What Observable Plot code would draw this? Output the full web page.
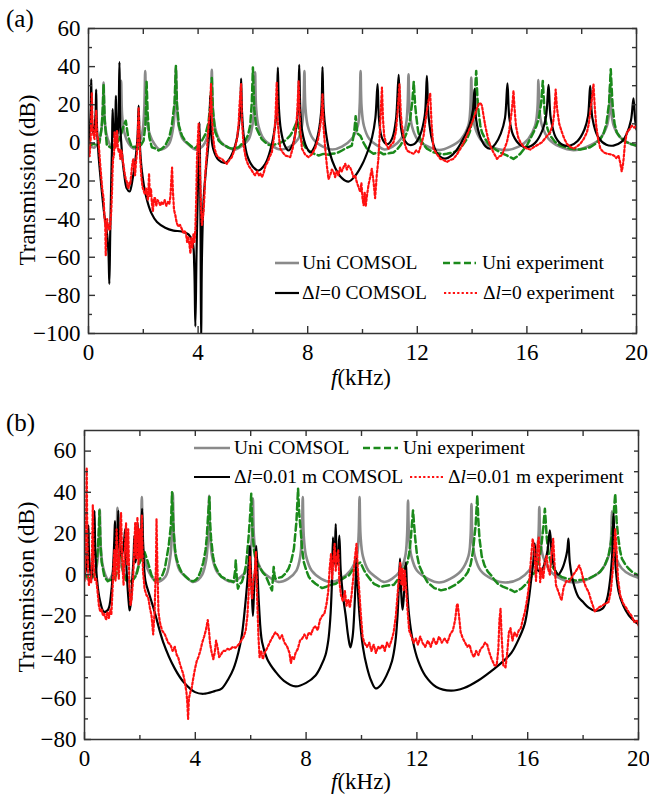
<!DOCTYPE html>
<html><head><meta charset="utf-8">
<script src="https://cdn.jsdelivr.net/npm/d3@7"></script>
<script src="https://cdn.jsdelivr.net/npm/@observablehq/plot@0.6"></script>
<style>
body{margin:0;background:#fff;}
#page{position:relative;width:649px;height:795px;overflow:hidden;font-family:'Liberation Serif','Times New Roman',serif;color:#000;background:#fff;}
.t{position:absolute;white-space:nowrap;line-height:1;font-family:'Liberation Serif','Times New Roman',serif;}
.panel{position:absolute;left:0;}
.panel svg text{font-family:'Liberation Serif','Times New Roman',serif !important;}
</style></head><body><div id="page"></div>
<script>
// ---------- tick values ----------
const xMajor = [0, 4, 8, 12, 16, 20];
const xMinor = [2, 6, 10, 14, 18];
const xAll = [0, 2, 4, 6, 8, 10, 12, 14, 16, 18, 20];
const yMajorA = [-100, -80, -60, -40, -20, 0, 20, 40, 60];
const yMinorA = [-90, -70, -50, -30, -10, 10, 30, 50];
const yAllA = [-100, -90, -80, -70, -60, -50, -40, -30, -20, -10, 0, 10, 20, 30, 40, 50, 60];
const yMajorB = [-80, -60, -40, -20, 0, 20, 40, 60];
const yMinorB = [-70, -50, -30, -10, 10, 30, 50];
const yAllB = [-80, -70, -60, -50, -40, -30, -20, -10, 0, 10, 20, 30, 40, 50, 60];

// ---------- series: [f (kHz), transmission (dB)] ----------
const uniComsol = [[0,-1],[0.2,-2.5],[0.35,0],[0.45,5],[0.515,14],[0.55,31.7],[0.585,14],[0.65,5],[0.75,0],[0.87,-2.5],[1.0,0],[1.09,5],[1.155,15],[1.19,32.5],[1.225,15],[1.3,6],[1.45,0],[1.65,-3],[1.82,-1],[1.97,6],[2.035,18],[2.07,37.7],[2.105,18],[2.17,8],[2.32,1.5],[2.6,-3.5],[2.92,-1],[3.09,8],[3.155,20],[3.19,39.5],[3.225,20],[3.29,9],[3.44,2],[3.7,-1.5],[3.9,-3.5],[4.1,-2.5],[4.25,0],[4.39,7],[4.465,19],[4.5,38.3],[4.535,19],[4.62,8],[4.8,1],[5.1,-2.5],[5.35,-3.5],[5.6,-1.5],[5.85,2],[5.98,9],[6.045,19],[6.08,37],[6.115,19],[6.2,9],[6.4,2],[6.7,-1.5],[7.0,-3.5],[7.35,-2],[7.65,2],[7.79,9],[7.845,19],[7.88,37.7],[7.915,19],[8.0,9],[8.2,2],[8.55,-2],[8.9,-3.5],[9.25,-2],[9.6,2],[9.83,9],[9.895,19],[9.93,37.7],[9.965,19],[10.05,9],[10.25,2],[10.55,-1.5],[10.8,-3.5],[11.1,-2],[11.4,2],[11.58,9],[11.645,19],[11.68,36],[11.715,19],[11.8,9],[12.0,2],[12.4,-2],[12.8,-3.8],[13.2,-2],[13.6,2],[13.86,9],[13.935,18],[13.97,34.3],[14.005,18],[14.09,9],[14.3,2],[14.7,-2],[15.2,-3.8],[15.7,-2],[16.05,2],[16.3,9],[16.385,18],[16.42,32.9],[16.455,18],[16.55,9],[16.8,2],[17.2,-2],[17.7,-3.8],[18.2,-2],[18.65,2],[18.92,9],[19.005,17],[19.04,30.8],[19.075,17],[19.17,9],[19.4,3],[19.7,0],[20,-1.5]];

const uniExpA = [[0,0],[0.1,-1],[0.2,-0.5],[0.3,-1.5],[0.4,0],[0.48,8],[0.52,18],[0.55,30.8],[0.59,12],[0.67,-1.4],[0.76,-2],[0.85,-2.8],[0.97,-1],[1.1,1.2],[1.2,5],[1.28,9],[1.36,11.6],[1.44,3.8],[1.58,-2.3],[1.7,-2],[1.83,-3],[1.92,-1],[2.01,1.2],[2.08,10],[2.12,32],[2.16,15],[2.22,3],[2.31,-2.3],[2.45,-3],[2.56,-4],[2.68,-3],[2.8,-1.4],[2.95,3],[3.04,9],[3.14,21],[3.19,40.3],[3.23,20],[3.3,9],[3.41,3.8],[3.53,1],[3.65,-0.5],[3.77,-2],[3.89,-2.8],[4.02,-1],[4.14,1.2],[4.28,5],[4.38,10.8],[4.45,21],[4.5,34],[4.54,17],[4.62,6],[4.75,1.2],[4.87,-0.5],[4.99,-1.4],[5.11,-2.5],[5.23,-3],[5.35,-2.6],[5.48,-2.3],[5.6,-0.5],[5.72,1.2],[5.82,4],[5.9,9],[5.96,21],[6.0,39.5],[6.05,17.7],[6.12,8],[6.2,5.5],[6.32,2],[6.45,0.3],[6.57,-1],[6.69,-1.4],[6.81,-0.8],[6.93,-0.5],[7.05,0.5],[7.18,1.2],[7.27,2.5],[7.36,3.8],[7.45,6],[7.54,9],[7.62,11.6],[7.73,3.8],[7.82,0],[7.91,-2.3],[8.03,-4],[8.15,-5],[8.27,-6],[8.4,-6.6],[8.52,-6],[8.64,-5.7],[8.76,-6.2],[8.88,-5.7],[9.0,-5.5],[9.12,-5],[9.25,-4],[9.37,-3],[9.49,-2.2],[9.61,-1.4],[9.7,6],[9.75,14],[9.81,5],[9.92,3.8],[10.04,0],[10.16,-3],[10.28,-4.5],[10.4,-5.7],[10.52,-5.2],[10.65,-5],[10.77,-6],[10.89,-5.7],[11.01,-5.3],[11.13,-5],[11.26,-3.5],[11.38,-1.4],[11.5,1.5],[11.62,5.5],[11.72,11],[11.77,16],[11.82,22],[11.87,32],[11.92,20],[11.96,14.2],[12.03,6],[12.11,2],[12.23,-1],[12.35,-3],[12.47,-4],[12.6,-5],[12.72,-5.5],[12.84,-5.7],[12.96,-6],[13.08,-5.7],[13.2,-5.3],[13.32,-5],[13.45,-4],[13.57,-3],[13.69,-0.5],[13.81,2],[13.92,6],[13.99,10.8],[14.09,23],[14.15,37.7],[14.2,22],[14.24,16],[14.3,9],[14.36,5.5],[14.48,2],[14.6,-0.5],[14.75,-2.5],[14.91,-4],[15.09,-5.5],[15.27,-6.6],[15.39,-7.5],[15.51,-8.4],[15.64,-7.2],[15.76,-5.7],[15.88,-3.5],[16.0,-1.4],[16.12,2],[16.24,5.5],[16.35,9],[16.43,12.5],[16.52,21],[16.58,32.5],[16.63,20],[16.67,12.5],[16.76,7],[16.85,3.8],[17.03,0.5],[17.22,-1.4],[17.4,-2.2],[17.58,-3],[17.77,-3.3],[17.95,-3.5],[18.13,-3],[18.31,-2.3],[18.5,-0.5],[18.68,2],[18.8,5],[18.9,9.9],[19.0,21],[19.06,38.6],[19.11,24],[19.14,17.7],[19.2,10],[19.28,5.5],[19.4,3],[19.53,1.2],[19.65,0.3],[19.77,-0.5],[19.9,-1],[20,-1.4]];

const dl0Comsol = [[0,0],[0.05,8],[0.085,18],[0.1,33.4],[0.12,15],[0.17,5],[0.22,8],[0.26,16],[0.28,28],[0.3,12],[0.36,-5],[0.45,-20],[0.58,-38],[0.68,-48],[0.73,-58],[0.76,-74],[0.79,-50],[0.83,-20],[0.86,0],[0.88,17.7],[0.91,5],[0.94,3],[0.98,12],[1.0,24.7],[1.03,8],[1.07,5],[1.1,15],[1.13,42.4],[1.16,10],[1.22,-5],[1.3,-16],[1.4,-24],[1.5,-25.5],[1.62,-18],[1.72,-8],[1.79,3],[1.83,19.5],[1.87,0],[1.95,-15],[2.1,-28],[2.3,-37],[2.5,-41.5],[2.8,-44.5],[3.1,-46],[3.4,-46.5],[3.65,-48],[3.8,-52],[3.86,-65],[3.9,-96.3],[3.94,-60],[3.99,-25],[4.03,-2],[4.05,10.6],[4.07,-10],[4.09,-45],[4.11,-105],[4.14,-60],[4.2,-30],[4.3,-12],[4.38,0],[4.42,10],[4.44,24.7],[4.47,7],[4.55,-3],[4.75,-9],[5.0,-10.5],[5.2,-7],[5.38,0],[5.48,8],[5.54,17],[5.57,33.7],[5.6,17],[5.67,3],[5.8,-7],[6.0,-12.5],[6.2,-14.5],[6.45,-11],[6.65,-3],[6.8,8],[6.87,18],[6.91,39.5],[6.95,18],[7.02,7],[7.15,-1],[7.3,-4],[7.45,-1],[7.57,7],[7.65,18],[7.69,40.9],[7.73,18],[7.8,6],[7.95,-2],[8.1,-5],[8.25,-2],[8.4,6],[8.5,18],[8.54,39.8],[8.58,18],[8.66,6],[8.8,-5],[9.0,-13],[9.25,-18.5],[9.49,-20.3],[9.75,-17],[10.0,-11],[10.2,-4],[10.35,3],[10.47,13],[10.55,30.8],[10.6,13],[10.7,3],[10.85,-0.5],[10.95,-0.5],[11.1,3],[11.22,12],[11.32,35.7],[11.37,14],[11.48,3],[11.7,-1],[11.9,-0.5],[12.1,4],[12.27,14],[12.35,35.2],[12.41,14],[12.55,1],[12.75,-6],[13.0,-8.3],[13.3,-6],[13.6,0],[13.9,9],[14.03,17],[14.09,28.2],[14.15,12],[14.3,3],[14.5,-2],[14.66,-3],[14.85,-0.5],[15.05,5],[15.2,13],[15.29,31.2],[15.36,13],[15.5,4],[15.75,-1],[16.0,-2.3],[16.3,0],[16.55,6],[16.7,14],[16.79,30.4],[16.87,13],[17.05,3],[17.3,-1],[17.58,-1.4],[17.85,1],[18.1,7],[18.23,14],[18.31,29.9],[18.39,13],[18.6,3],[18.9,-1],[19.16,-1.4],[19.45,0.5],[19.65,5],[19.8,12],[19.89,23.3],[19.95,12],[20,7]];

const dl0Exp = [[0,-4],[0.04,-7],[0.08,2],[0.12,26.4],[0.15,8],[0.18,4],[0.22,2],[0.26,10],[0.28,17],[0.31,5],[0.37,0],[0.42,-10],[0.46,-17],[0.5,-24],[0.55,-29],[0.58,-38],[0.61,-43],[0.63,-59],[0.65,-48],[0.68,-40],[0.71,-44],[0.73,-43],[0.76,-46],[0.79,-45],[0.81,-40],[0.83,-36],[0.86,-25],[0.88,-14],[0.9,-8],[0.93,-7],[0.95,5.5],[0.98,-3],[1.0,-1.4],[1.02,3],[1.04,6.4],[1.07,-2],[1.1,-5],[1.13,-3],[1.16,-8.4],[1.19,-4],[1.22,-5],[1.25,-9],[1.28,-12],[1.32,-16],[1.36,-19],[1.4,-20.5],[1.43,-23],[1.46,-24],[1.49,-21],[1.52,-22],[1.55,-18],[1.58,-13.6],[1.61,-10],[1.64,-8.4],[1.67,-13],[1.7,-17],[1.73,-11],[1.77,-5],[1.8,5],[1.83,18.6],[1.86,2],[1.89,-8.4],[1.93,-18],[1.97,-23],[2.01,-25],[2.06,-27],[2.1,-24],[2.13,-26.7],[2.17,-30],[2.21,-16],[2.24,-28],[2.28,-24],[2.31,-31],[2.35,-36],[2.39,-29],[2.43,-29],[2.47,-33],[2.52,-30],[2.57,-31],[2.62,-33],[2.67,-31],[2.72,-32],[2.78,-30],[2.84,-33],[2.9,-31],[2.95,-32],[2.99,-28],[3.02,-20],[3.05,-13],[3.08,-25],[3.12,-35],[3.17,-38],[3.22,-42],[3.28,-44],[3.34,-43],[3.4,-45],[3.46,-47],[3.51,-46],[3.56,-48],[3.6,-52],[3.64,-49],[3.68,-53],[3.72,-58],[3.75,-50],[3.79,-55],[3.83,-48],[3.87,-52],[3.9,-45],[3.93,-30],[3.96,-8],[3.99,2],[4.02,10],[4.05,-5],[4.08,-20],[4.11,-35],[4.14,-43],[4.17,-40],[4.2,-36],[4.23,-28],[4.26,-17],[4.32,-5],[4.38,9],[4.44,18],[4.47,30.8],[4.5,15],[4.54,4],[4.6,-3],[4.68,-6.6],[4.78,-8],[4.87,-8.4],[4.96,-10],[5.05,-11],[5.14,-9],[5.23,-7.5],[5.32,-4],[5.42,2],[5.48,10],[5.51,19.5],[5.54,25],[5.57,30.8],[5.6,12],[5.66,-1.4],[5.74,-8],[5.84,-12],[5.94,-14],[6.02,-16],[6.08,-17],[6.16,-15],[6.22,-17],[6.27,-16],[6.33,-18],[6.39,-16],[6.46,-12],[6.54,-10],[6.62,-7],[6.69,-5],[6.76,2],[6.82,12],[6.87,31.7],[6.91,10],[6.96,2],[7.0,-3],[7.09,-5],[7.18,-6.6],[7.27,-7],[7.36,-7.5],[7.45,-3],[7.54,4],[7.61,14],[7.67,32.5],[7.72,8],[7.79,-3],[7.9,-6],[8.03,-7.5],[8.15,-6],[8.27,-3],[8.38,2],[8.46,9],[8.51,16],[8.54,25.6],[8.58,8],[8.64,-3],[8.7,-12],[8.76,-19],[8.82,-17],[8.88,-14],[8.94,-15],[9.0,-18],[9.06,-15],[9.12,-17],[9.18,-13],[9.24,-15],[9.31,-12.7],[9.37,-11],[9.43,-14],[9.49,-12],[9.55,-13],[9.61,-15],[9.67,-18],[9.73,-17],[9.79,-20.5],[9.85,-23],[9.92,-25.8],[9.96,-21],[10.0,-29],[10.04,-32.7],[10.08,-26],[10.12,-33],[10.16,-28],[10.22,-22],[10.28,-18],[10.34,-13.6],[10.4,-20],[10.46,-29],[10.52,-17],[10.58,-8.4],[10.63,5],[10.67,17.7],[10.71,29],[10.75,12],[10.79,4],[10.87,-1],[10.95,-3],[11.04,-1],[11.13,0.3],[11.22,6],[11.28,16],[11.35,30.8],[11.4,15],[11.44,9],[11.53,0],[11.62,-4],[11.74,-5],[11.87,-5.7],[11.96,-4],[12.05,-5],[12.14,-1],[12.23,3.8],[12.33,15],[12.41,22],[12.47,26],[12.52,10],[12.59,-3],[12.72,-6],[12.84,-8.4],[12.96,-9],[13.08,-10],[13.2,-9],[13.32,-8.4],[13.45,-6],[13.57,-3],[13.69,0],[13.81,4],[13.93,8],[14.05,12.5],[14.15,17],[14.24,20.3],[14.3,21],[14.36,19.5],[14.42,14],[14.48,9],[14.57,3],[14.66,-1.4],[14.78,-5],[14.91,-8.4],[15.0,-7],[15.09,-6.6],[15.18,-3],[15.27,0.3],[15.35,6],[15.41,12.5],[15.47,20],[15.51,27.3],[15.55,18],[15.6,9],[15.68,3],[15.76,0.3],[15.88,-2],[16.0,-3],[16.12,-3.5],[16.24,-2.3],[16.4,-1],[16.55,0.3],[16.7,3],[16.85,5.5],[16.95,10],[17.0,16],[17.05,28],[17.1,18],[17.18,10],[17.28,5.5],[17.37,2],[17.46,-0.5],[17.58,-2],[17.7,-3],[17.82,-2],[17.95,-0.5],[18.07,2],[18.19,5.5],[18.26,10],[18.31,16],[18.38,24],[18.43,30.8],[18.48,18],[18.53,9],[18.6,2],[18.68,-3],[18.8,-5],[18.92,-5.7],[19.05,-6],[19.17,-6.6],[19.26,-8],[19.34,-6.6],[19.4,-10],[19.46,-15],[19.5,-12],[19.53,-8.4],[19.58,0],[19.65,5.5],[19.74,7],[19.83,9],[19.92,8],[20,9]];

const uniExpB = [[0,0],[0.1,-1],[0.2,-2],[0.3,-1],[0.4,1],[0.48,12],[0.51,20],[0.54,31.2],[0.58,14],[0.62,6],[0.72,-1],[0.84,-3.2],[0.93,-2.5],[1.02,-2.8],[1.14,-0.3],[1.23,6],[1.3,14],[1.39,1.3],[1.51,-2.8],[1.6,-3],[1.69,-3.2],[1.78,-2],[1.87,-0.3],[1.99,6],[2.1,9],[2.17,11],[2.29,6],[2.42,-0.3],[2.53,-2.8],[2.62,-2.2],[2.72,-2],[2.82,0],[2.9,3],[3.04,14],[3.12,24],[3.16,40],[3.2,26],[3.22,20.7],[3.27,12],[3.32,7.8],[3.41,4],[3.5,1.3],[3.62,-0.5],[3.74,-2],[3.85,-3],[3.93,-3.2],[4.02,-2.5],[4.11,-1.1],[4.2,2],[4.29,6],[4.37,12],[4.41,17.5],[4.47,30.4],[4.51,37.7],[4.54,24],[4.57,17.5],[4.64,9],[4.71,4.5],[4.83,1],[4.95,-1.1],[5.08,-2],[5.2,-2.8],[5.3,-3],[5.38,-3.6],[5.44,2],[5.46,7],[5.5,-2],[5.54,-6.8],[5.6,-4.5],[5.68,-3.6],[5.76,0],[5.83,4.5],[5.92,17.5],[5.98,28.8],[6.02,39.3],[6.05,26],[6.08,17.5],[6.13,11],[6.17,7.8],[6.26,5],[6.35,3],[6.44,1],[6.53,-0.3],[6.62,-3],[6.71,-6],[6.77,-7.6],[6.8,-2],[6.83,3.7],[6.86,0],[6.89,-2],[7.0,-1.5],[7.13,-1.1],[7.25,0.5],[7.37,3],[7.47,7],[7.56,12.6],[7.65,25.6],[7.71,41.7],[7.75,30],[7.8,22.3],[7.86,12],[7.92,6],[8.01,2],[8.1,-1.1],[8.22,-3],[8.34,-4.4],[8.46,-5.5],[8.58,-6.5],[8.7,-6],[8.83,-5.2],[8.95,-4.8],[9.07,-4.4],[9.19,-3.2],[9.31,-2],[9.43,-1],[9.55,-0.3],[9.64,1.5],[9.73,3],[9.84,5],[9.96,6],[10.08,2.5],[10.2,-0.3],[10.33,-2.5],[10.45,-4.4],[10.57,-5.2],[10.69,-6],[10.81,-5.5],[10.93,-5.2],[11.05,-5.1],[11.17,-4.9],[11.3,-2.5],[11.42,-0.3],[11.54,3],[11.66,6],[11.73,11],[11.78,17.5],[11.86,31.2],[11.9,24],[11.94,17.5],[12.0,10],[12.08,4.5],[12.23,0],[12.38,-3.6],[12.5,-5],[12.63,-6.5],[12.75,-7],[12.87,-7.6],[13.0,-7.2],[13.12,-6.8],[13.23,-6],[13.35,-5.2],[13.47,-4],[13.59,-2.8],[13.72,-1],[13.84,1.3],[13.94,5],[14.02,11],[14.12,24],[14.18,38.5],[14.22,26],[14.26,17.5],[14.34,9],[14.44,4.5],[14.56,1.5],[14.68,-0.3],[14.8,-2.5],[14.92,-4.4],[15.1,-5.8],[15.29,-6.8],[15.41,-7.5],[15.53,-8.4],[15.65,-7.6],[15.77,-6.8],[15.89,-5.2],[16.01,-3.6],[16.13,-1],[16.26,1.3],[16.36,5],[16.44,9.4],[16.5,15],[16.56,22.3],[16.62,32],[16.66,24],[16.69,17.5],[16.76,10],[16.86,4.5],[17.04,1],[17.22,-1.1],[17.46,-2],[17.71,-2.8],[17.95,-2.5],[18.19,-2],[18.4,-0.5],[18.61,1.3],[18.78,4.5],[18.92,9.4],[19.0,15],[19.06,22.3],[19.16,39.3],[19.21,26],[19.26,19],[19.33,12],[19.4,7.8],[19.52,5],[19.64,3],[19.76,1.5],[19.88,0.5],[20,-0.3]];

const dl001Comsol = [[0,-1],[0.08,5],[0.12,15],[0.14,24],[0.17,8],[0.25,-2],[0.31,8],[0.34,18],[0.36,31],[0.39,12],[0.45,-2],[0.55,-12],[0.7,-18],[0.85,-17],[0.97,-8],[1.04,6],[1.08,18],[1.1,26],[1.14,12],[1.17,11],[1.2,19],[1.22,31],[1.26,14],[1.34,9],[1.42,15],[1.47,22.3],[1.5,8],[1.55,-5],[1.6,-14],[1.63,-17.3],[1.67,-14],[1.72,-3],[1.77,8],[1.8,19],[1.84,6],[1.88,10],[1.92,25],[1.96,10],[2.01,12],[2.05,20],[2.08,32],[2.12,12],[2.2,-3],[2.35,-10],[2.53,-18],[2.84,-32.7],[3.26,-45.6],[3.6,-52.5],[3.99,-57],[4.3,-57.8],[4.7,-56.5],[4.95,-55.3],[5.2,-50.5],[5.38,-45.6],[5.55,-38],[5.68,-29.4],[5.8,-15],[5.88,-3],[5.94,7],[5.97,14],[6.0,5],[6.04,-8],[6.08,-20],[6.12,-8],[6.17,5],[6.2,14],[6.24,3],[6.3,-15],[6.41,-32.7],[6.6,-41],[6.89,-47],[7.2,-51.5],[7.62,-54.2],[8.0,-52.5],[8.34,-48.9],[8.55,-44],[8.7,-39],[8.8,-32],[8.87,-22],[8.93,-5],[8.97,18.1],[9.0,5],[9.03,8],[9.07,24.6],[9.11,5],[9.15,8],[9.2,19],[9.25,2],[9.33,-10],[9.43,-20],[9.52,-30],[9.6,-35.3],[9.68,-30],[9.75,-15],[9.79,-2],[9.82,8],[9.86,-5],[9.93,-20],[10.05,-35],[10.2,-45],[10.35,-51.5],[10.51,-55.2],[10.7,-53.5],[10.9,-49],[11.1,-42],[11.22,-33],[11.3,-20],[11.35,-5],[11.39,7.8],[11.43,-8],[11.48,-17],[11.52,-12],[11.56,-2],[11.6,6],[11.64,-5],[11.72,-20],[11.85,-32],[12.05,-42],[12.3,-49],[12.7,-54.5],[13.23,-56.3],[13.7,-55],[14.2,-51.5],[14.8,-45.6],[15.2,-41],[15.41,-38],[15.65,-32],[15.89,-24],[16.02,-14],[16.13,-2],[16.2,6],[16.25,15.2],[16.3,6],[16.38,2],[16.5,2],[16.62,6],[16.72,12],[16.8,21.5],[16.87,10],[16.97,3],[17.1,0],[17.25,3],[17.37,8],[17.43,12],[17.47,17.5],[17.52,6],[17.65,-4],[17.83,-10.8],[18.0,-13.3],[18.2,-16],[18.43,-17.5],[18.7,-16.5],[18.86,-12],[18.98,-2],[19.05,10],[19.1,29.6],[19.15,8],[19.28,-8],[19.45,-15],[19.65,-19.7],[19.85,-22.5],[20,-24]];

const dl001Exp = [[0,-3],[0.03,5],[0.06,30],[0.08,52],[0.1,20],[0.13,0],[0.16,-5],[0.2,-2],[0.24,-4],[0.27,10],[0.3,33.7],[0.33,5],[0.38,-3],[0.42,-2],[0.47,-8],[0.52,-15],[0.57,-18],[0.62,-17],[0.67,-20],[0.72,-19],[0.78,-22],[0.83,-18],[0.88,-21],[0.93,-17],[0.97,-19],[1.01,-8],[1.05,5],[1.08,12],[1.12,-3],[1.16,22],[1.2,5],[1.24,-2],[1.28,18],[1.32,30],[1.36,8],[1.41,-5],[1.45,10],[1.5,25],[1.54,5],[1.58,22],[1.62,-5],[1.66,-15],[1.7,-12],[1.75,-3],[1.79,10],[1.83,25],[1.87,8],[1.91,28],[1.95,5],[1.99,22],[2.03,8],[2.07,29],[2.11,2],[2.17,-7],[2.24,-10],[2.3,-11],[2.36,-16],[2.42,-20],[2.48,-29],[2.53,-18],[2.58,5],[2.6,27],[2.63,5],[2.67,-18],[2.72,-23],[2.8,-27],[2.9,-29],[2.96,-31],[3.02,-33],[3.1,-34],[3.18,-37],[3.26,-35],[3.33,-39],[3.38,-40],[3.44,-43],[3.5,-45.6],[3.56,-48],[3.62,-52],[3.68,-57],[3.71,-62],[3.74,-70],[3.77,-60],[3.82,-57],[3.87,-55],[3.93,-50],[3.99,-45.6],[4.05,-42],[4.11,-40],[4.17,-37.5],[4.25,-33],[4.32,-30],[4.38,-27],[4.45,-22],[4.5,-28],[4.53,-33],[4.58,-37],[4.65,-41],[4.7,-38],[4.75,-32],[4.8,-35],[4.86,-40],[4.92,-39],[5.0,-37],[5.08,-37],[5.16,-36],[5.25,-36.5],[5.35,-35],[5.45,-35.5],[5.56,-34],[5.66,-32],[5.75,-30],[5.82,-27],[5.88,-20],[5.93,-8],[5.97,9],[6.01,-5],[6.05,-12],[6.1,-3],[6.15,2],[6.19,11],[6.23,-10],[6.28,-30],[6.32,-40],[6.38,-37],[6.44,-41],[6.5,-38],[6.58,-36],[6.65,-34],[6.72,-32],[6.8,-30],[6.89,-28],[6.97,-29],[7.05,-31],[7.13,-29.4],[7.22,-33],[7.32,-35],[7.4,-38],[7.45,-43],[7.5,-40],[7.56,-41],[7.62,-38],[7.7,-36],[7.78,-32],[7.86,-31],[7.94,-29],[8.02,-31],[8.1,-28],[8.18,-29],[8.26,-26],[8.34,-25],[8.42,-27],[8.5,-22],[8.58,-20],[8.66,-19],[8.74,-14],[8.8,-8],[8.85,3],[8.9,10],[8.94,-2],[8.98,6],[9.03,15],[9.07,2],[9.11,8],[9.16,12],[9.2,-3],[9.26,-10],[9.33,-13],[9.4,-8],[9.46,-15],[9.52,-12],[9.58,-16],[9.64,-10],[9.7,-2],[9.76,8],[9.82,15],[9.87,2],[9.93,-10],[9.98,-20],[10.04,-30],[10.1,-33],[10.2,-35],[10.28,-33],[10.36,-37],[10.44,-34],[10.52,-38],[10.6,-35],[10.68,-36],[10.76,-34],[10.84,-37],[10.92,-33],[11.0,-35],[11.08,-32],[11.16,-28],[11.24,-20],[11.3,-10],[11.36,0],[11.4,6],[11.44,-5],[11.48,3],[11.52,-8],[11.56,2],[11.6,-5],[11.65,-15],[11.72,-27],[11.8,-30],[11.88,-33],[11.96,-31],[12.04,-34],[12.12,-30],[12.2,-33],[12.3,-35],[12.4,-32],[12.5,-35],[12.6,-31],[12.7,-34],[12.8,-30],[12.9,-33],[13.0,-31],[13.1,-33],[13.2,-29],[13.3,-27],[13.38,-22],[13.44,-15],[13.47,-14],[13.52,-20],[13.58,-28],[13.66,-31],[13.74,-33],[13.82,-35],[13.9,-34],[13.98,-38],[14.06,-40],[14.14,-37],[14.22,-39],[14.3,-36],[14.38,-35],[14.46,-33],[14.54,-34],[14.62,-38],[14.7,-41],[14.8,-44],[14.88,-44],[14.94,-36],[14.98,-22],[15.02,-16.5],[15.06,-30],[15.12,-44],[15.2,-45],[15.26,-38],[15.32,-28],[15.38,-26],[15.45,-32],[15.52,-28],[15.6,-30],[15.68,-27],[15.75,-26],[15.82,-22],[15.9,-18],[15.98,-12],[16.05,-5],[16.12,8],[16.18,17.5],[16.24,12],[16.3,-3],[16.36,15],[16.4,18],[16.45,-3.6],[16.5,3],[16.56,-2],[16.62,6],[16.68,9],[16.74,2.8],[16.8,0],[16.86,10],[16.92,17.5],[16.97,5],[17.02,-5],[17.1,-8],[17.22,-12.5],[17.3,-6],[17.4,-3],[17.5,-3.4],[17.6,-1],[17.7,1],[17.8,3],[17.86,4.5],[17.93,2],[18.02,-3],[18.1,-6],[18.2,-8.4],[18.3,-13],[18.43,-18],[18.55,-16],[18.7,-15],[18.8,-14],[18.92,-13.3],[19.0,-8],[19.07,2],[19.12,12],[19.16,22],[19.2,14],[19.26,-2],[19.34,-10],[19.45,-14],[19.55,-16],[19.64,-18],[19.75,-20],[19.85,-23],[19.95,-22],[20,-24.6]];

// ---------- styles ----------
const C = {
  uni: {stroke: "#8a8a8a", strokeWidth: 2.6},
  uniExp: {stroke: "#1b8a1b", strokeWidth: 2.5, strokeDasharray: "7,3.5"},
  comsol: {stroke: "#000", strokeWidth: 2.2},
  exp: {stroke: "#ff1010", strokeWidth: 2.2, strokeDasharray: "2.2,2.2"}
};
const FONT = "'Liberation Serif', 'Times New Roman', serif";
const AXC = "#333";

function panel({yDomain, yMajor, yMinor, yAll, series, margins, height}) {
  const fx = d => d[0], fy = d => d[1];
  const [g, ge, k, r] = series;
  return Plot.plot({
    width: 649, height,
    marginLeft: margins[0], marginRight: margins[1], marginTop: margins[2], marginBottom: margins[3],
    x: {domain: [0, 20]},
    y: {domain: yDomain},
    style: {fontFamily: FONT, fontSize: "23px", color: "#000", background: "transparent", overflow: "visible"},
    marks: [
      Plot.line(g, {x: fx, y: fy, ...C.uni, curve: "catmull-rom", clip: true}),
      Plot.line(ge, {x: fx, y: fy, ...C.uniExp, clip: true}),
      Plot.line(k, {x: fx, y: fy, ...C.comsol, curve: "catmull-rom", clip: true}),
      Plot.line(r, {x: fx, y: fy, ...C.exp, clip: true}),
      Plot.frame({stroke: AXC, strokeWidth: 1.5}),
      Plot.axisX(xMajor, {anchor: "bottom", tickSize: 0, tickPadding: 10, label: null, fontSize: 23, fontFamily: FONT, fill: "#000"}),
      Plot.axisX(xMajor, {anchor: "bottom", tickSize: -7, text: null, label: null, stroke: AXC, strokeWidth: 1.4}),
      Plot.axisX(xMinor, {anchor: "bottom", tickSize: -4, text: null, label: null, stroke: AXC, strokeWidth: 1.4}),
      Plot.axisX(xAll, {anchor: "top", tickSize: -5, text: null, label: null, stroke: AXC, strokeWidth: 1.4}),
      Plot.axisY(yMajor, {anchor: "left", tickSize: 0, tickPadding: 8, label: null, fontSize: 23, fontFamily: FONT, fill: "#000"}),
      Plot.axisY(yMajor, {anchor: "left", tickSize: -7, text: null, label: null, stroke: AXC, strokeWidth: 1.4}),
      Plot.axisY(yMinor, {anchor: "left", tickSize: -4, text: null, label: null, stroke: AXC, strokeWidth: 1.4}),
      Plot.axisY(yAll, {anchor: "right", tickSize: -5, text: null, label: null, stroke: AXC, strokeWidth: 1.4})
    ]
  });
}

const page = document.getElementById("page");

const pa = panel({yDomain: [-100, 60], yMajor: yMajorA, yMinor: yMinorA, yAll: yAllA,
  series: [uniComsol, uniExpA, dl0Comsol, dl0Exp], margins: [88, 13, 28, 62], height: 395});
const divA = document.createElement("div"); divA.className = "panel"; divA.style.top = "0px"; divA.appendChild(pa); page.appendChild(divA);

const pb = panel({yDomain: [-80, 70], yMajor: yMajorB, yMinor: yMinorB, yAll: yAllB,
  series: [uniComsol, uniExpB, dl001Comsol, dl001Exp], margins: [84, 11, 35, 56], height: 400});
const divB = document.createElement("div"); divB.className = "panel"; divB.style.top = "395px"; divB.appendChild(pb); page.appendChild(divB);

// ---------- text overlays ----------
function txt(html, x, y, size, align = "left", rotate = 0) {
  const d = document.createElement("div");
  d.className = "t";
  d.innerHTML = html;
  d.style.left = x + "px";
  d.style.top = y + "px";
  d.style.fontSize = size + "px";
  d.style.fontFamily = FONT;
  const tx = align === "center" ? "-50%" : "0";
  d.style.transform = `translate(${tx},-50%)`;
  if (rotate) { d.style.transformOrigin = "0 0"; d.style.transform = `rotate(${rotate}deg) translate(-50%,-50%)`; }
  page.appendChild(d);
  return d;
}
txt("(a)", 6, 18, 25);
txt("(b)", 6, 422, 25);
txt("Transmission (dB)", 27, 180, 23, "center", -90);
txt("Transmission (dB)", 26, 587, 23, "center", -90);
txt("<i>f</i>(kHz)", 361, 377, 23, "center");
txt("<i>f</i>(kHz)", 361, 781, 23, "center");

function swatch(x1, x2, y, st) {
  const ns = "http://www.w3.org/2000/svg";
  const s = document.createElementNS(ns, "svg");
  s.setAttribute("width", x2 - x1 + 2); s.setAttribute("height", 8);
  s.style.position = "absolute"; s.style.left = (x1 - 1) + "px"; s.style.top = (y - 4) + "px";
  const l = document.createElementNS(ns, "line");
  l.setAttribute("x1", 1); l.setAttribute("x2", x2 - x1 + 1); l.setAttribute("y1", 4); l.setAttribute("y2", 4);
  l.setAttribute("stroke", st.stroke); l.setAttribute("stroke-width", st.strokeWidth);
  if (st.strokeDasharray) l.setAttribute("stroke-dasharray", st.strokeDasharray);
  s.appendChild(l); page.appendChild(s);
}
const LF = 19.5;
// legend (a)
swatch(275, 299, 263, C.uni);       txt("Uni COMSOL", 302, 263, LF);
swatch(443, 476, 263, C.uniExp);    txt("Uni experiment", 482, 263, LF);
swatch(275, 299, 293, C.comsol);    txt("&Delta;<i>l</i>=0 COMSOL", 302, 293, LF);
swatch(444, 479, 293, C.exp);       txt("&Delta;<i>l</i>=0 experiment", 483, 293, LF);
// legend (b)
swatch(194, 230, 448, C.uni);       txt("Uni COMSOL", 234, 448, LF);
swatch(363, 398, 448, C.uniExp);    txt("Uni experiment", 403, 448, LF);
swatch(194, 230, 477, C.comsol);    txt("&Delta;<i>l</i>=0.01 m COMSOL", 234, 477, LF);
swatch(410, 445, 477, C.exp);       txt("&Delta;<i>l</i>=0.01 m experiment", 448, 477, LF);
</script></body></html>
